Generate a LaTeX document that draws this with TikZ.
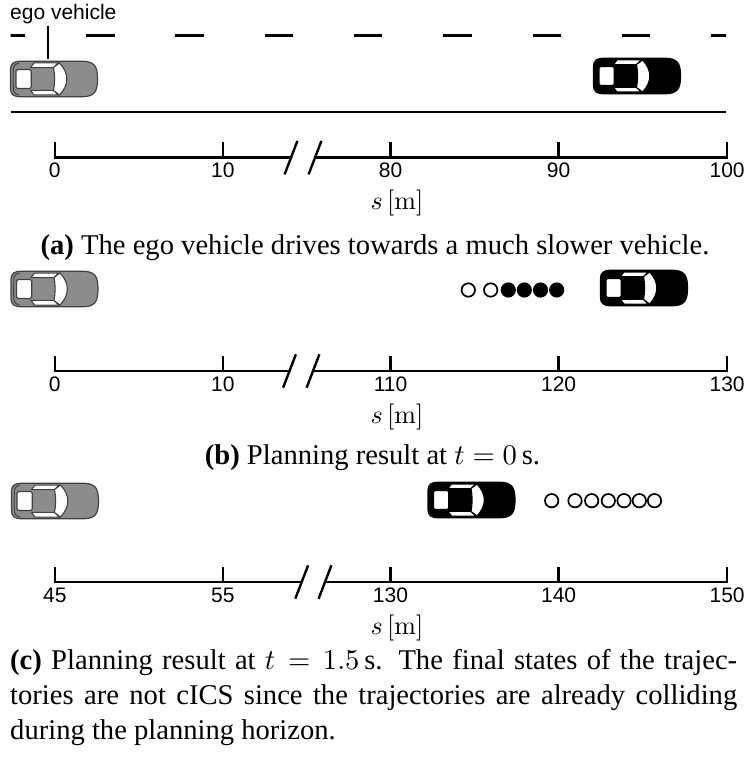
\documentclass[tikz,border=0pt]{standalone}
\usepackage[no-math]{fontspec}
\setmainfont{Liberation Serif}
\newfontfamily\helv{Liberation Sans}
% scalable Computer Modern shapes for large math
\DeclareFontShape{OML}{cmm}{m}{it}{<->cmmi10}{}
\DeclareFontShape{OT1}{cmr}{m}{n}{<->cmr10}{}
\DeclareFontShape{OMS}{cmsy}{m}{n}{<->cmsy10}{}
\DeclareFontShape{OMX}{cmex}{m}{n}{<->cmex10}{}
\tikzset{
  road/.style={line width=2.9},
  axisline/.style={line width=2.5, line cap=rect},
  breakmark/.style={line width=2.4},
  ticklab/.style={anchor=base, inner sep=0, font=\helv\fontsize{21}{22}\selectfont},
  unitlab/.style={anchor=base, inner sep=0, font=\fontsize{26}{28}\selectfont},
  caption/.style={inner sep=0, font=\fontsize{28.6}{35}\selectfont},
  opendot/.style={circle, draw=black, fill=white, line width=1.7, minimum size=13.4, inner sep=0},
  fulldot/.style={circle, draw=black, fill=black, line width=1.7, minimum size=13.4, inner sep=0},
  % top view of a car heading to the right: #1 body colour, #2 outline colour
  pics/car/.style 2 args={code={
    \path[draw=#2, fill=#1, line width=1.2]
      (-43.5,-9) .. controls (-43.5,-16) and (-40,-17.8) .. (-33,-17.8)
      -- (27,-17.8) .. controls (40.5,-17.8) and (43.5,-13) .. (43.5,0)
      .. controls (43.5,13) and (40.5,17.8) .. (27,17.8)
      -- (-33,17.8) .. controls (-40,17.8) and (-43.5,16) .. (-43.5,9) -- cycle;
    \draw[#2, line width=1] (-35,-16) .. controls (-40.8,-14) .. (-40.8,0)
      .. controls (-40.8,14) .. (-35,16);
    \path[draw=#2, fill=white, line width=1.1, rounded corners=1.5] (-38,-9.5) rectangle (-22.8,9.5);
    \path[draw=#2, fill=white, line width=1] (-23.5,-11.3) -- (-20,-16) -- (4,-16) -- (-0.5,-11.5) -- cycle;
    \path[draw=#2, fill=white, line width=1] (-23.5,11.3) -- (-20,16) -- (4,16) -- (-0.5,11.5) -- cycle;
    \path[draw=#2, fill=white, line width=1.1]
      (-0.5,-11.5) -- (5.5,-16) .. controls (10.5,-11) and (12.8,-5) .. (12.8,0)
      .. controls (12.8,5) and (10.5,11) .. (5.5,16) -- (-0.5,11.5)
      .. controls (1,4) and (1,-4) .. (-0.5,-11.5) -- cycle;
  }}
}
\begin{document}
\begin{tikzpicture}[x=1pt, y=-1pt]
\useasboundingbox (0,0) rectangle (745,762);

% ---------- (a) ----------
\node[anchor=base west, inner sep=0, font=\helv\fontsize{21}{22}\selectfont] (egolab) at (10,19.5) {ego vehicle};
\coordinate (egotop) at (48,59);
\draw[line width=2.2, shorten <=1.5] (egolab.south -| egotop) -- (egotop);

\begin{scope}
  \clip (10.5,20) rectangle (726,50);
  \foreach \k in {0,...,8}
    \draw[road] (-3.3+89.3*\k,35.5) -- ++(28.5,0);
\end{scope}
\coordinate (roadL) at (10.5,112);
\coordinate (roadR) at (726,112);
\draw[road] (roadL) -- (roadR);

\pic (a-ego) at (54,79) {car={black!45}{black!75}};
\pic (a-obs) at (637,76) {car={black}{black}};

\foreach \xx/\lab [count=\i] in {54.8/0,222.9/10,390.5/80,558.6/90,727.1/100} {
  \coordinate (a-t\i) at (\xx,157.7);
  \draw[axisline] (a-t\i) -- ++(0,-14);
  \node[ticklab] (a-l\i) at (\xx,177.5) {\lab};
}
\coordinate (a-b1) at (291,157.7);
\coordinate (a-b2) at (315,157.7);
\draw[axisline] (a-t1) -- (a-b1);
\draw[axisline] (a-b2) -- (a-t5);
\draw[breakmark] (a-b1) ++(-6.4,16.7) -- ++(12.8,-33.4);
\draw[breakmark] (a-b2) ++(-6.4,16.7) -- ++(12.8,-33.4);
\node[unitlab] (a-unit) at (397,209.5) {$s\,[\mathrm{m}]$};
\node[caption, anchor=base] (a-cap) at (375,254) {\textbf{(a)} The ego vehicle drives towards a much slower vehicle.};

% ---------- (b) ----------
\pic (b-ego) at (54.5,289) {car={black!45}{black!75}};
\pic (b-obs) at (644,288) {car={black}{black}};
\foreach \xx [count=\i] in {468.3,490.7}
  \node[opendot] (b-o\i) at (\xx,290) {};
\foreach \xx [count=\i] in {508.3,524.3,540.5,556.7}
  \node[fulldot] (b-f\i) at (\xx,290) {};

\foreach \xx/\lab [count=\i] in {54.8/0,222.9/10,390.5/110,558.6/120,727.1/130} {
  \coordinate (b-t\i) at (\xx,371);
  \draw[axisline] (b-t\i) -- ++(0,-14);
  \node[ticklab] (b-l\i) at (\xx,391) {\lab};
}
\coordinate (b-b1) at (289.5,371);
\coordinate (b-b2) at (313,371);
\draw[axisline] (b-t1) -- (b-b1);
\draw[axisline] (b-b2) -- (b-t5);
\draw[breakmark] (b-b1) ++(-6.4,16.7) -- ++(12.8,-33.4);
\draw[breakmark] (b-b2) ++(-6.4,16.7) -- ++(12.8,-33.4);
\node[unitlab] (b-unit) at (397,423) {$s\,[\mathrm{m}]$};
\node[caption, anchor=base] (b-cap) at (372.5,464) {\textbf{(b)} Planning result at $t = 0\,$s.};

% ---------- (c) ----------
\pic (c-ego) at (55,501) {car={black!45}{black!75}};
\pic (c-obs) at (471.5,500) {car={black}{black}};
\foreach \xx [count=\i] in {551.7,575,591.7,608.3,624,639.3,654.5}
  \node[opendot] (c-o\i) at (\xx,500.7) {};

\foreach \xx/\lab [count=\i] in {54.8/45,222.9/55,390.5/130,558.6/140,727.1/150} {
  \coordinate (c-t\i) at (\xx,582);
  \draw[axisline] (c-t\i) -- ++(0,-14);
  \node[ticklab] (c-l\i) at (\xx,602) {\lab};
}
\coordinate (c-b1) at (301.7,582);
\coordinate (c-b2) at (325,582);
\draw[axisline] (c-t1) -- (c-b1);
\draw[axisline] (c-b2) -- (c-t5);
\draw[breakmark] (c-b1) ++(-6.4,16.7) -- ++(12.8,-33.4);
\draw[breakmark] (c-b2) ++(-6.4,16.7) -- ++(12.8,-33.4);
\node[unitlab] (c-unit) at (397,634) {$s\,[\mathrm{m}]$};

\node[caption, anchor=base west] (c-cap1) at (10,669)
  {\makebox[727pt][s]{\textbf{(c)} Planning result at $t = 1.5\,$s. The final states of the trajec-}};
\node[caption, anchor=base west] (c-cap2) at (10,704)
  {\makebox[727pt][s]{tories are not cICS since the trajectories are already colliding}};
\node[caption, anchor=base west] (c-cap3) at (10,739) {during the planning horizon.};
\end{tikzpicture}
\end{document}
